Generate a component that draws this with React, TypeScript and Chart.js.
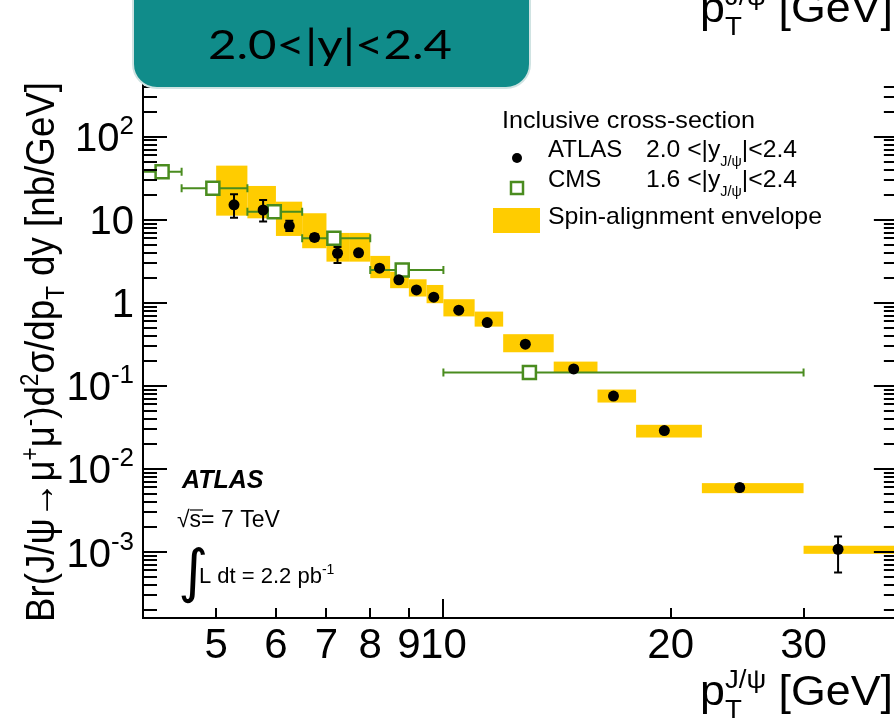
import React, { useEffect, useRef } from 'react';
import { Chart, registerables } from 'chart.js';
Chart.register(...registerables);

// ATLAS inclusive J/psi cross-section, 2.0<|y|<2.4
const atlasPt = [5.28, 5.77, 6.25, 6.75, 7.24, 7.72, 8.23, 8.73, 9.21, 9.71, 10.48, 11.43, 12.84, 14.88, 16.8, 19.62, 24.69, 33.33];
const atlasXsec = [15.1, 13.1, 8.42, 6.12, 3.95, 4.0, 2.61, 1.89, 1.43, 1.17, 0.815, 0.578, 0.318, 0.16, 0.0754, 0.029, 0.00597, 0.00108];
const atlasErrLow = [10.6, 9.5, 7.3, 5.6, 3.02, 3.7, 2.45, 1.78, 1.35, 1.1, 0.77, 0.545, 0.3, 0.15, 0.071, 0.0273, 0.0055, 0.000567];
const atlasErrHigh = [20.3, 17.3, 9.7, 6.7, 4.71, 4.3, 2.8, 2.0, 1.51, 1.24, 0.86, 0.61, 0.336, 0.17, 0.08, 0.0307, 0.0065, 0.001537];
// Spin-alignment envelope (per ATLAS bin)
const binLow = [5, 5.5, 6, 6.5, 7, 7.5, 8, 8.5, 9, 9.5, 10, 11, 12, 14, 16, 18, 22, 30];
const binHigh = [5.5, 6, 6.5, 7, 7.5, 8, 8.5, 9, 9.5, 10, 11, 12, 14, 16, 18, 22, 30, 70];
const envLow = [11.2, 10.4, 6.38, 4.54, 3.13, 3.13, 1.98, 1.5, 1.19, 0.989, 0.686, 0.517, 0.254, 0.1445, 0.063, 0.0239, 0.00511, 0.000951];
const envHigh = [44.8, 25.5, 16.5, 11.97, 6.94, 6.94, 3.67, 2.37, 1.92, 1.64, 1.105, 0.784, 0.419, 0.196, 0.0903, 0.034, 0.00675, 0.00119];
// CMS 1.6<|y|<2.4
const cmsPt = [4.24, 4.95, 5.97, 7.16, 8.82, 13.0];
const cmsXsec = [37.9, 23.9, 12.5, 5.99, 2.49, 0.1445];
const cmsBinLow = [4.0, 4.5, 5.5, 6.5, 8, 10];
const cmsBinHigh = [4.5, 5.5, 6.5, 8, 10, 30];
// axis ticks
const xTickLabels = [5, 6, 7, 8, 9, 10, 20, 30];
const xMinorTicks = [4, 5, 6, 7, 8, 9, 20, 30];
const yTickExponents = [-3, -2, -1, 0, 1, 2];

const FONT = '"Liberation Sans", Arial, Helvetica, sans-serif';
const YELLOW = '#ffcc00';
const GREEN = '#4a8c1f';
const TEAL = '#108c8a';

type Part = { t: string; size: number; dy?: number; style?: string; family?: string; stack?: { t: string; size: number; dy: number } };

function fontOf(p: { size: number; style?: string; family?: string }) {
  return `${p.style ?? ''} ${p.size}px ${p.family ?? FONT}`;
}

function layoutRich(ctx: CanvasRenderingContext2D, parts: Part[]) {
  let w = 0;
  const pos: number[] = [];
  for (const p of parts) {
    ctx.font = fontOf(p);
    let pw = ctx.measureText(p.t).width;
    if (p.stack) {
      ctx.font = fontOf({ size: p.stack.size, style: p.style, family: p.family });
      pw = Math.max(pw, ctx.measureText(p.stack.t).width);
    }
    pos.push(w);
    w += pw;
  }
  return { w, pos };
}

function drawRich(
  ctx: CanvasRenderingContext2D,
  parts: Part[],
  x: number,
  y: number,
  opt: { align?: 'left' | 'right' | 'center'; width?: number; sy?: number; color?: string; rot?: number } = {}
) {
  ctx.save();
  const { w, pos } = layoutRich(ctx, parts);
  const sx = opt.width ? opt.width / w : 1;
  ctx.translate(x, y);
  if (opt.rot) ctx.rotate(opt.rot);
  ctx.scale(sx, opt.sy ?? 1);
  const start = opt.align === 'right' ? -w : opt.align === 'center' ? -w / 2 : 0;
  ctx.fillStyle = opt.color ?? '#000';
  ctx.textBaseline = 'alphabetic';
  ctx.textAlign = 'left';
  parts.forEach((p, i) => {
    ctx.font = fontOf(p);
    ctx.fillText(p.t, start + pos[i], p.dy ?? 0);
    if (p.stack) {
      ctx.font = fontOf({ size: p.stack.size, style: p.style, family: p.family });
      ctx.fillText(p.stack.t, start + pos[i], p.stack.dy);
    }
  });
  ctx.restore();
}

const physPlugin = {
  id: 'phys',
  beforeDatasetsDraw(chart: any) {
    const { ctx, chartArea: a, scales } = chart;
    const x = scales.x, y = scales.y;
    ctx.save();
    ctx.beginPath();
    ctx.rect(a.left, a.top - 80, a.right - a.left + 10, a.bottom - a.top + 80);
    ctx.clip();
    ctx.fillStyle = YELLOW;
    for (let i = 0; i < binLow.length; i++) {
      const x0 = x.getPixelForValue(binLow[i]);
      const x1 = x.getPixelForValue(binHigh[i]);
      const y0 = y.getPixelForValue(envHigh[i]);
      const y1 = y.getPixelForValue(envLow[i]);
      ctx.fillRect(x0, y0, x1 - x0, y1 - y0);
    }
    // CMS horizontal error bars
    ctx.strokeStyle = GREEN;
    ctx.lineWidth = 2;
    for (let i = 0; i < cmsPt.length; i++) {
      const py = y.getPixelForValue(cmsXsec[i]);
      const x0 = x.getPixelForValue(cmsBinLow[i]);
      const x1 = x.getPixelForValue(cmsBinHigh[i]);
      ctx.beginPath();
      ctx.moveTo(x0, py);
      ctx.lineTo(x1, py);
      ctx.moveTo(x0, py - 4);
      ctx.lineTo(x0, py + 4);
      ctx.moveTo(x1, py - 4);
      ctx.lineTo(x1, py + 4);
      ctx.stroke();
    }
    // ATLAS vertical error bars
    ctx.strokeStyle = '#000';
    ctx.lineWidth = 2;
    for (let i = 0; i < atlasPt.length; i++) {
      const px = x.getPixelForValue(atlasPt[i]);
      const y0 = y.getPixelForValue(atlasErrHigh[i]);
      const y1 = y.getPixelForValue(atlasErrLow[i]);
      ctx.beginPath();
      ctx.moveTo(px, y0);
      ctx.lineTo(px, y1);
      ctx.moveTo(px - 4, y0);
      ctx.lineTo(px + 4, y0);
      ctx.moveTo(px - 4, y1);
      ctx.lineTo(px + 4, y1);
      ctx.stroke();
    }
    ctx.restore();
  },
  afterDraw(chart: any) {
    const { ctx, chartArea: a, scales } = chart;
    const x = scales.x, y = scales.y;
    const L = a.left, B = a.bottom;
    const R = x.getPixelForValue(40);
    ctx.save();
    ctx.strokeStyle = '#000';
    ctx.lineWidth = 2;
    ctx.beginPath();
    ctx.moveTo(L, a.top);
    ctx.lineTo(L, B);
    ctx.lineTo(R, B);
    ctx.lineTo(R, a.top);
    ctx.stroke();
    // y ticks (inside, left and right)
    ctx.beginPath();
    for (let e = -4; e <= 2; e++) {
      for (let m = 1; m <= 9; m++) {
        const v = m * Math.pow(10, e);
        if (v < y.min || v > y.max) continue;
        const py = Math.round(y.getPixelForValue(v));
        const len = m === 1 ? 24 : 14;
        ctx.moveTo(L, py);
        ctx.lineTo(L + len, py);
        ctx.moveTo(R, py);
        ctx.lineTo(R - len, py);
      }
    }
    // x ticks
    for (const v of [...xMinorTicks, 10]) {
      const px = Math.round(x.getPixelForValue(v));
      const len = v === 10 ? 19 : 10;
      ctx.moveTo(px, B);
      ctx.lineTo(px, B - len);
    }
    ctx.stroke();

    // y tick labels
    for (const k of yTickExponents) {
      const py = y.getPixelForValue(Math.pow(10, k));
      let parts: Part[];
      if (k === 0) parts = [{ t: '1', size: 40 }];
      else if (k === 1) parts = [{ t: '10', size: 40 }];
      else parts = [{ t: '10', size: 40 }, { t: String(k), size: 26, dy: -17 }];
      drawRich(ctx, parts, 134, py + 14.5, { align: 'right' });
    }
    // x tick labels
    for (const v of xTickLabels) {
      const px = x.getPixelForValue(v);
      drawRich(ctx, [{ t: String(v), size: 42 }], px, 658, { align: 'center' });
    }

    // axis titles
    const ptTitle: Part[] = [
      { t: 'p', size: 42 },
      { t: 'T', size: 26, dy: 13, stack: { t: 'J/\u03c8', size: 26, dy: -17 } },
      { t: ' [GeV]', size: 42 },
    ];
    drawRich(ctx, ptTitle, 893, 705, { align: 'right', width: 193 });
    drawRich(ctx, ptTitle, 893, 22, { align: 'right', width: 193 });

    const yTitle: Part[] = [
      { t: 'Br(J/\u03c8\u2192\u03bc', size: 36 },
      { t: '+', size: 22, dy: -14 },
      { t: '\u03bc', size: 36 },
      { t: '-', size: 22, dy: -14 },
      { t: ')d', size: 36 },
      { t: '2', size: 22, dy: -14 },
      { t: '\u03c3/dp', size: 36 },
      { t: 'T', size: 22, dy: 9 },
      { t: ' dy [nb/GeV]', size: 36 },
    ];
    drawRich(ctx, yTitle, 54, 622, { rot: -Math.PI / 2, width: 540, sy: 1.15 });

    // ATLAS label block
    drawRich(ctx, [{ t: 'ATLAS', size: 25, style: 'italic bold' }], 182, 488);
    drawRich(ctx, [{ t: '\u221as= 7 TeV', size: 23 }], 177, 527);
    ctx.strokeStyle = '#000';
    ctx.lineWidth = 1.2;
    ctx.beginPath();
    ctx.moveTo(190, 510);
    ctx.lineTo(203, 510);
    ctx.stroke();
    drawRich(ctx, [{ t: '\u222b', size: 58, family: '"DejaVu Sans", sans-serif' }], 178, 591);
    drawRich(ctx, [{ t: 'L dt = 2.2 pb', size: 22 }, { t: '-1', size: 14, dy: -9 }], 199, 583);

    // legend
    drawRich(ctx, [{ t: 'Inclusive cross-section', size: 24 }], 502, 128, { width: 253 });
    ctx.fillStyle = '#000';
    ctx.beginPath();
    ctx.arc(517, 158, 5, 0, Math.PI * 2);
    ctx.fill();
    drawRich(ctx, [{ t: 'ATLAS', size: 24 }], 548, 157);
    drawRich(ctx, [{ t: '2.0 <|y', size: 24 }, { t: 'J/\u03c8', size: 14, dy: 9 }, { t: '|<2.4', size: 24 }], 646, 157, { width: 151 });
    ctx.fillStyle = '#fff';
    ctx.strokeStyle = GREEN;
    ctx.lineWidth = 2.5;
    ctx.fillRect(511, 182, 12, 12);
    ctx.strokeRect(511, 182, 12, 12);
    drawRich(ctx, [{ t: 'CMS', size: 24 }], 548, 187);
    drawRich(ctx, [{ t: '1.6 <|y', size: 24 }, { t: 'J/\u03c8', size: 14, dy: 9 }, { t: '|<2.4', size: 24 }], 646, 187, { width: 151 });
    ctx.fillStyle = YELLOW;
    ctx.fillRect(493, 208, 47, 25);
    drawRich(ctx, [{ t: 'Spin-alignment envelope', size: 24 }], 548, 224, { width: 274 });

    // teal rapidity box
    ctx.fillStyle = TEAL;
    ctx.strokeStyle = '#cfe3e2';
    ctx.lineWidth = 2;
    ctx.beginPath();
    ctx.roundRect(133, -30, 397, 118, 24);
    ctx.fill();
    ctx.stroke();
    drawRich(ctx, [{ t: '2.0<|y|<2.4', size: 40, family: 'Lato, "Open Sans", sans-serif' }], 330, 59, { align: 'center', width: 244 });
    ctx.restore();
  },
};

export default function App() {
  const ref = useRef<HTMLCanvasElement | null>(null);
  useEffect(() => {
    if (!ref.current) return;
    const chart = new Chart(ref.current, {
      type: 'scatter',
      data: {
        datasets: [
          {
            label: 'ATLAS',
            data: atlasPt.map((v, i) => ({ x: v, y: atlasXsec[i] })),
            pointStyle: 'circle',
            pointRadius: 5.5,
            pointBackgroundColor: '#000',
            pointBorderColor: '#000',
            pointBorderWidth: 0,
            showLine: false,
          },
          {
            label: 'CMS',
            data: cmsPt.map((v, i) => ({ x: v, y: cmsXsec[i] })),
            pointStyle: 'rect',
            pointRadius: 9.2,
            pointBackgroundColor: '#fff',
            pointBorderColor: GREEN,
            pointBorderWidth: 2.5,
            showLine: false,
          },
        ],
      },
      options: {
        responsive: false,
        animation: false,
        devicePixelRatio: 1,
        layout: { autoPadding: false, padding: { left: 143, right: 0, top: 80, bottom: 108 } },
        scales: {
          x: { type: 'logarithmic', min: 4, max: 39.53, display: false },
          y: { type: 'logarithmic', min: 1.606e-4, max: 481, display: false },
        },
        plugins: { legend: { display: false }, tooltip: { enabled: false } },
      },
      plugins: [physPlugin],
    } as any);
    return () => chart.destroy();
  }, []);
  return (
    <div style={{ position: 'fixed', left: 0, top: 0, width: 894, height: 726, background: '#fff' }}>
      <canvas ref={ref} width={894} height={726} style={{ display: 'block' }} />
    </div>
  );
}
